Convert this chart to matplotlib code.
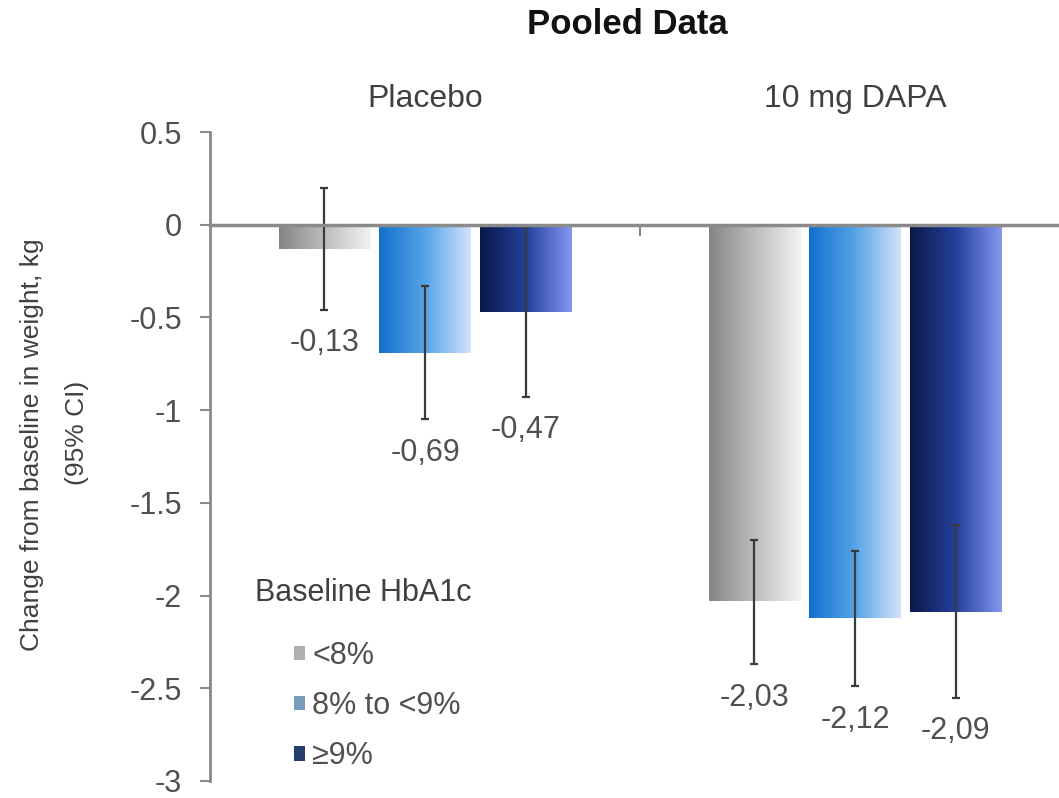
import matplotlib.pyplot as plt
import numpy as np
from matplotlib.colors import LinearSegmentedColormap
from matplotlib.patches import Patch

plt.rcParams['font.family'] = ['Liberation Sans', 'DejaVu Sans']

# data
groups = ["Placebo", "10 mg DAPA"]
hba1c = ["<8%", "8% to <9%", "\u22659%"]
placebo = [-0.13, -0.69, -0.47]
placebo_lo = [-0.46, -1.05, -0.93]
placebo_hi = [0.20, -0.33, -0.01]
dapa = [-2.03, -2.12, -2.09]
dapa_lo = [-2.37, -2.49, -2.55]
dapa_hi = [-1.70, -1.76, -1.62]
yticks = [0.5, 0, -0.5, -1, -1.5, -2, -2.5, -3]
ytick_labels = ["0.5", "0", "-0.5", "-1", "-1.5", "-2", "-2.5", "-3"]

# colours: bar gradients (left -> right) and legend swatches
gradients = [["#858585", "#bdbdbd", "#f2f2f2"],
             ["#1170cc", "#55a3e6", "#d3e3fb"],
             ["#0b1848", "#24409c", "#8497f0"]]
swatches = ["#b0b0b0", "#7a9cbc", "#263c6c"]
grey = "#8a8a8a"
txt = "#505050"

fig = plt.figure(figsize=(10.59, 7.98), dpi=100)
ax = fig.add_axes([210 / 1059, 17 / 798, 860 / 1059, 649 / 798])

x = np.arange(len(groups))
width = 0.212
step = 0.234
grad = np.linspace(0, 1, 256).reshape(1, -1)

for i in range(len(hba1c)):
    vals = np.array([placebo[i], dapa[i]])
    lo = np.array([placebo_lo[i], dapa_lo[i]])
    hi = np.array([placebo_hi[i], dapa_hi[i]])
    xs = x + (i - 1) * step
    bars = ax.bar(xs, vals, width, color=gradients[i][1], edgecolor="none", zorder=2)
    cmap = LinearSegmentedColormap.from_list("g%d" % i, gradients[i])
    for p in bars:
        ax.imshow(grad, cmap=cmap, aspect="auto", zorder=2.1,
                  extent=[p.get_x(), p.get_x() + p.get_width(), p.get_height(), 0])
    ax.errorbar(xs, vals, yerr=[vals - lo, hi - vals], fmt="none", ecolor="#3a3a3a",
                elinewidth=1.6, capsize=3, capthick=1.6, zorder=4)
    for xi, v, l in zip(xs, vals, lo):
        ax.annotate("{:.2f}".format(v).replace(".", ","), (xi, l), xytext=(0, -24),
                    textcoords="offset points", ha="center", va="center",
                    fontsize=22, color=txt)

ax.set_xlim(-0.5, 1.5)
ax.set_ylim(-3, 0.5)

# axes styling
ax.spines["top"].set_visible(False)
ax.spines["right"].set_visible(False)
ax.spines["bottom"].set_position(("data", 0))
ax.spines["bottom"].set_color(grey)
ax.spines["bottom"].set_linewidth(2.5)
ax.spines["bottom"].set_zorder(5)
ax.spines["left"].set_color(grey)
ax.spines["left"].set_linewidth(2)

ax.set_xticks([0.5])
ax.set_xticklabels([""])
ax.tick_params(axis="x", direction="out", length=8, width=1.5, color=grey)
ax.set_yticks(yticks)
ax.set_yticklabels(ytick_labels)
ax.tick_params(axis="y", direction="out", length=7, width=1.5, color=grey,
               pad=13, labelsize=22, labelcolor=txt)

# group labels above the plot
for xi, g in zip(x, groups):
    ax.text(xi, 1 + 33 / 649, g, transform=ax.get_xaxis_transform(),
            ha="center", va="center", fontsize=23, color="#404040")

fig.text(627 / 1059, 1 - 25 / 798, "Pooled Data", ha="center", va="center",
         fontsize=25, fontweight="bold", color="#111111")

fig.text(32 / 1059, 1 - 445 / 798, "Change from baseline in weight, kg",
         rotation=90, ha="center", va="center", fontsize=19, color="#404040")
fig.text(77 / 1059, 1 - 433 / 798, "(95% CI)",
         rotation=90, ha="center", va="center", fontsize=19, color="#404040")

# legend
fig.text(255 / 1059, 1 - 593 / 798, "Baseline HbA1c", ha="left", va="center",
         fontsize=22, color="#404040")
handles = [Patch(facecolor=c, edgecolor="none") for c in swatches]
ax.legend(handles, hba1c, loc="upper left", bbox_to_anchor=(294 / 1059, 1 - 641 / 798),
          bbox_transform=fig.transFigure, frameon=False, fontsize=22,
          handlelength=0.35, handleheight=0.35, handletextpad=0.25,
          labelspacing=0.66, borderpad=0, borderaxespad=0, labelcolor=txt)

plt.savefig("out.png", dpi=100)
